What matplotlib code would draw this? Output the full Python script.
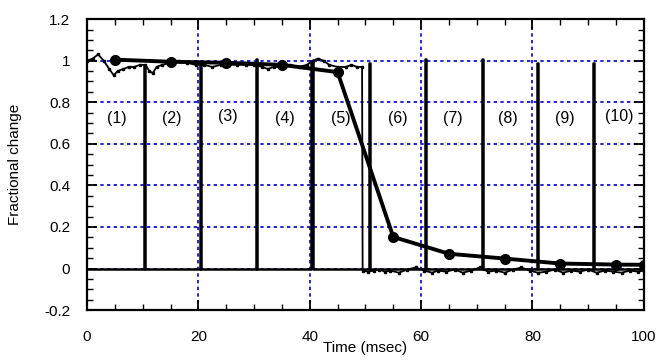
import numpy as np
import matplotlib.pyplot as plt
from matplotlib.ticker import MultipleLocator

# averaged response, one point per stimulus interval
avg_t = [5, 15, 25, 35, 45, 55, 65, 75, 85, 95, 100]
avg_v = [1.005, 0.995, 0.99, 0.98, 0.945, 0.152, 0.071, 0.048, 0.024, 0.019, 0.018]

# raw response trace
raw_t = [0, 1, 2, 3, 4, 4.8, 5.5, 6.5, 7.5, 8.5, 9.5, 10.5, 11.2, 11.8, 12.5, 13.5,
         15, 16.5, 18, 19.5, 21, 22.5, 24, 25.5, 27, 28.5, 30, 31.5, 32.5, 33.5,
         35, 36.5, 38, 39.5, 40.5, 41.5, 42.5, 43.5, 45, 46.5, 47.5, 48.5, 49.4,
         49.5, 50.5, 51.5, 52.5, 53.5, 54.5, 56, 57.5, 59, 60.5, 62, 63, 64.5, 66,
         67.5, 69, 70.5, 72, 73.5, 75, 76.5, 78, 79.5, 81, 82.5, 84, 85.5, 87, 88.5,
         90, 91.5, 93, 94.5, 96, 97.5, 99, 100]
raw_v = [1.0, 1.01, 1.03, 1.0, 0.96, 0.93, 0.95, 0.96, 0.97, 0.97, 0.98, 0.98, 0.95,
         0.94, 0.97, 0.98, 0.99, 1.0, 0.99, 0.98, 0.98, 0.97, 0.98, 0.98, 0.98, 0.98,
         0.98, 0.97, 0.96, 0.97, 0.97, 0.98, 0.97, 0.98, 1.0, 1.01, 1.0, 0.98, 0.97,
         0.97, 0.98, 0.97, 0.97, -0.01, -0.015, -0.01, -0.005, -0.015, -0.01, -0.02,
         -0.005, 0.005, -0.01, -0.02, -0.01, -0.015, -0.005, -0.02, -0.01, 0.005,
         -0.015, -0.01, -0.02, -0.005, 0.005, -0.01, -0.02, -0.015, -0.005, -0.02,
         -0.01, -0.015, -0.005, -0.02, -0.01, -0.015, -0.02, -0.01, -0.015, -0.01]

# stimulus pulses
pulse_t = [10.2, 20.3, 30.3, 40.3, 50.6, 60.7, 70.9, 80.8, 90.9]
pulse_h = [0.98, 0.98, 1.01, 1.0, 0.99, 1.01, 1.01, 0.99, 0.99]
pulse_w = 0.2

labels = ['(1)', '(2)', '(3)', '(4)', '(5)', '(6)', '(7)', '(8)', '(9)', '(10)']
label_t = [5.4, 15.3, 25.3, 35.5, 45.6, 55.8, 65.7, 75.5, 85.8, 95.5]
label_v = [0.72, 0.72, 0.73, 0.72, 0.72, 0.72, 0.72, 0.72, 0.72, 0.73]

plt.rcParams['font.family'] = ['Liberation Sans', 'DejaVu Sans']
plt.rcParams['font.size'] = 11

fig = plt.figure(figsize=(6.59, 3.61), dpi=100)
ax = fig.add_axes([0.132, 0.141, 0.845, 0.806])

# pulse trace built from pulse lists
px, py = [0], [0]
for t, h in zip(pulse_t, pulse_h):
    px += [t, t, t + pulse_w, t + pulse_w]
    py += [0, h, h, 0]
px.append(100)
py.append(0)

ax.plot(px, py, color='black', lw=1.8, zorder=3)
ax.plot(raw_t, raw_v, color='black', lw=1.3, marker='s', ms=2, zorder=3)
ax.plot(avg_t, avg_v, color='black', lw=2.8, marker='o', ms=7, zorder=4)

for s, t, v in zip(labels, label_t, label_v):
    ax.text(t, v, s, ha='center', va='center', fontsize=11.5)

ax.set_xlim(0, 100)
ax.set_ylim(-0.2, 1.2)
ax.xaxis.set_major_locator(MultipleLocator(20))
ax.xaxis.set_minor_locator(MultipleLocator(5))
ax.yaxis.set_major_locator(MultipleLocator(0.2))
ax.yaxis.set_minor_locator(MultipleLocator(0.05))
ax.set_yticks([-0.2, 0, 0.2, 0.4, 0.6, 0.8, 1.0, 1.2])
ax.set_yticklabels(['-0.2', '0', '0.2', '0.4', '0.6', '0.8', '1', '1.2'])

ax.grid(True, which='major', color='#0000cc', linestyle=(0, (2, 2)), lw=1.2)
ax.tick_params(which='both', direction='in', top=True, right=True, color='black')
ax.tick_params(axis='y', which='major', length=7, width=1.3, pad=12)
ax.tick_params(axis='x', which='major', length=7, width=1.3, pad=14)
ax.tick_params(which='minor', length=4, width=1.0)
for sp in ax.spines.values():
    sp.set_linewidth(1.6)

ax.set_xlabel('Time (msec)', labelpad=-2)
ax.set_ylabel('Fractional change', labelpad=16)

fig.savefig('out.png', dpi=100)
